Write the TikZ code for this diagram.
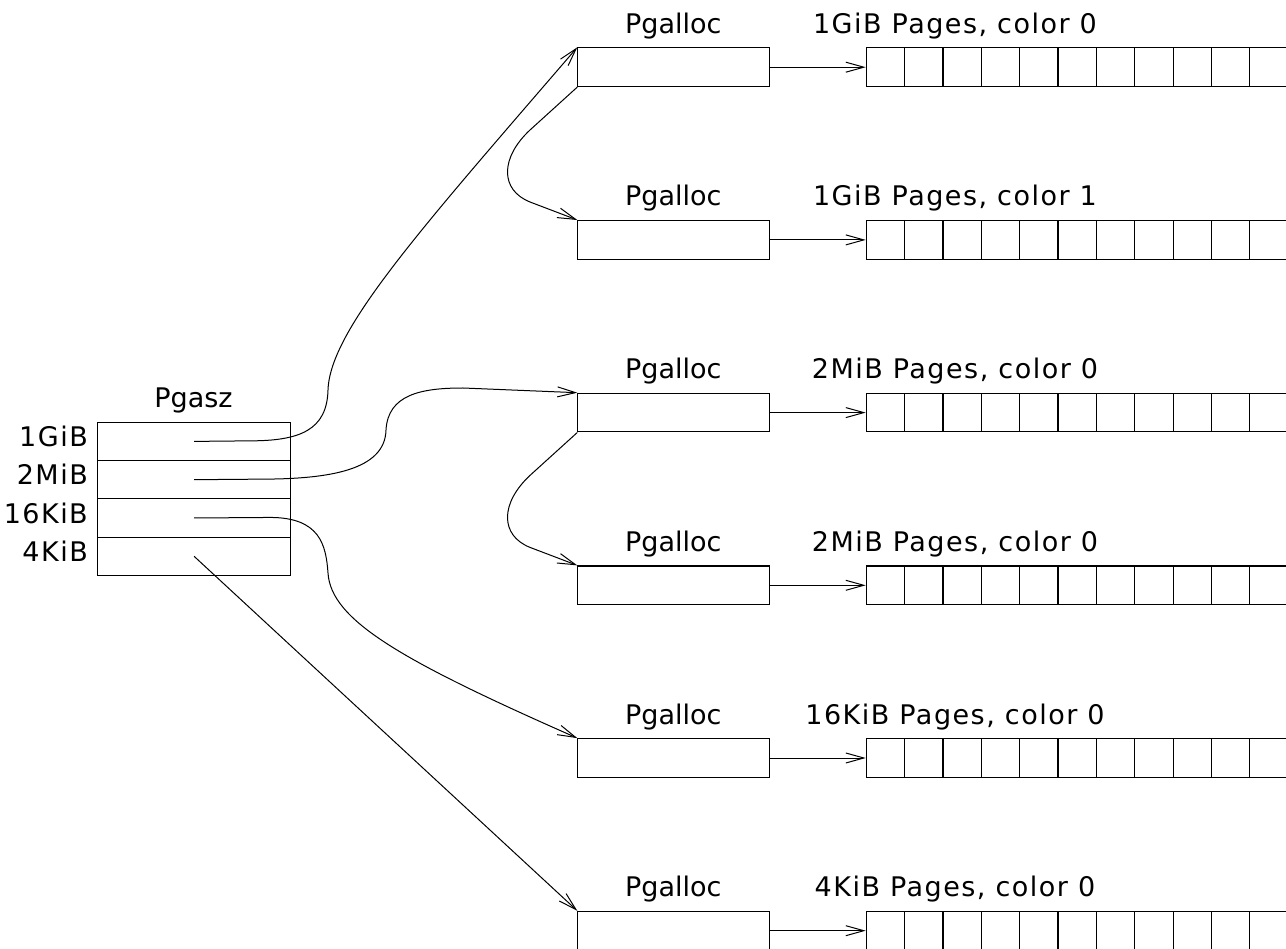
\documentclass[tikz,border=0pt]{standalone}
\usepackage{fontspec}
\setmainfont{DejaVu Sans}
\newfontfamily\widefont[LetterSpace=5.5]{DejaVu Sans}
\usetikzlibrary{arrows.meta}
\begin{document}
\begin{tikzpicture}[x=1pt,y=-1pt,
  box/.style={draw, line width=1.1pt, inner sep=0pt, minimum width=192pt, minimum height=38.7pt, anchor=north west},
  cell/.style={draw, line width=1.1pt, inner sep=0pt, minimum width=38.35pt, minimum height=38.7pt, anchor=north west},
  rowbox/.style={draw, line width=1.1pt, inner sep=0pt, minimum width=192.5pt, minimum height=38.3pt, anchor=north west},
  lbl/.style={anchor=base, inner sep=0pt, font=\fontsize{27}{32}\selectfont},
  widelbl/.style={lbl, font=\widefont\fontsize{27}{32}\selectfont},
  conn/.style={line width=1pt, -{Straight Barb[length=18pt,width=10pt]}}]
\useasboundingbox (0,0) rectangle (1286,949);
\clip (0,0) rectangle (1286,949);
% Pgasz table
\node[lbl] (pgasz) at (193.5,408) {Pgasz};
\foreach \k/\lab in {0/1GiB,1/2MiB,2/16KiB,3/4KiB}{
  \node[rowbox] (r\k) at (97.3,{421.7+38.3*\k}) {};
  \node[widelbl, anchor=base east] (rl\k) at (88,{421.7+38.3*\k+25}) {\lab};
}
% Pgalloc rows
\foreach \i/\t in {0/{1GiB Pages, color 0},1/{1GiB Pages, color 1},2/{2MiB Pages, color 0},3/{2MiB Pages, color 0},4/{16KiB Pages, color 0},5/{4KiB Pages, color 0}}{
  \pgfmathsetmacro{\yy}{47.3+172.7*\i}
  \node[box] (p\i) at (577.3,\yy) {};
  \node[lbl] (pl\i) at (673.3,\yy-14) {Pgalloc};
  \node[widelbl] (pt\i) at (955,\yy-14) {\t};
  \foreach \j in {0,...,11}{
    \node[cell] (c\i-\j) at ({865.7+38.35*\j},\yy) {};
  }
  \draw[conn] (p\i.east) -- (c\i-0.west);
}
% connectors from Pgasz
\draw[conn] (r0.center) -- (250,440.85) .. controls (300,440.85) and (327,430) .. (328,390)
   .. controls (330,330) and (420,230) .. (p0.north west);
\draw[conn] (r1.center) -- (260,479.15) .. controls (330,479.15) and (385,470) .. (386,430)
   .. controls (388,395) and (420,388) .. (463,388) -- (p2.north west);
\draw[conn] (r2.center) -- (270,517.45) .. controls (320,517.45) and (326,545) .. (328,573)
   .. controls (331,620) and (400,660) .. (p4.north west);
\draw[conn] (r3.center) -- (p5.north west);
% connectors between Pgalloc boxes
\draw[conn] (p0.south west) -- (530,130) .. controls (500,158) and (500,190) .. (530,202) -- (p1.north west);
\draw[conn] (p2.south west) -- (530,475.4) .. controls (500,503.4) and (500,535.4) .. (530,547.4) -- (p3.north west);
\end{tikzpicture}
\end{document}
